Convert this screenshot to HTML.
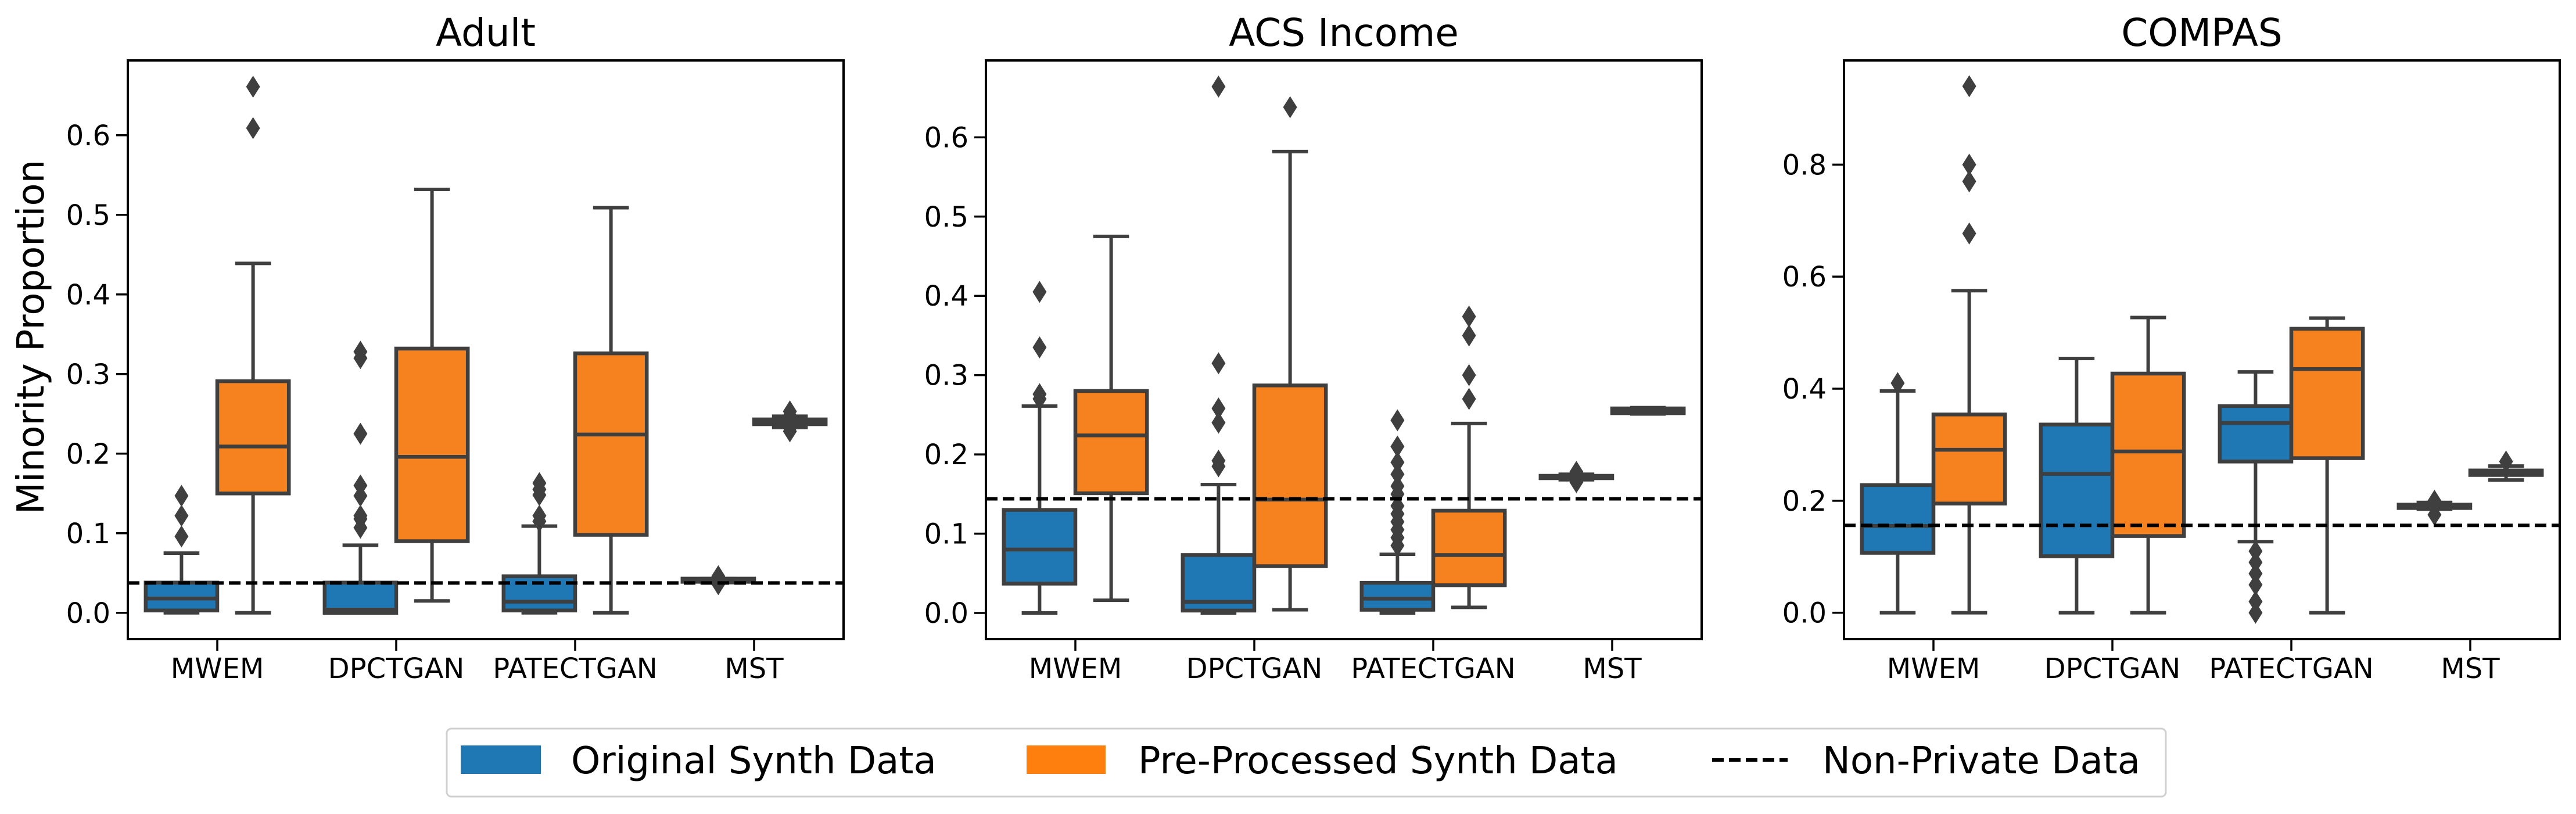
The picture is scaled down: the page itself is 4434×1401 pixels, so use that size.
<!DOCTYPE html>
<html><head><meta charset="utf-8">
<style>
html,body{margin:0;padding:0;background:#fff;}
svg{display:block;font-family:"DejaVu Sans","Liberation Sans",sans-serif;}
</style></head>
<body>
<svg id="chart" width="4434" height="1401" viewBox="0 0 4434 1401" xmlns="http://www.w3.org/2000/svg">
<rect width="4434" height="1401" fill="#fff"/>
<g id="panels"></g>
<g>
  <rect x="769" y="1254" width="2959" height="117" rx="8" fill="#fff" stroke="#d0d0d0" stroke-width="3"/>
  <rect x="793" y="1283" width="138" height="49" fill="#1f77b4"/>
  <text x="983" y="1331" font-size="64">Original Synth Data</text>
  <rect x="1767" y="1283" width="136" height="49" fill="#ff7f0e"/>
  <text x="1959" y="1331" font-size="64">Pre-Processed Synth Data</text>
  <line x1="2947" y1="1308" x2="3077" y2="1308" stroke="#000" stroke-width="6" stroke-dasharray="20,9"/>
  <text x="3137" y="1331" font-size="64">Non-Private Data</text>
</g>
</svg>
<script>
const categories = ["MWEM","DPCTGAN","PATECTGAN","MST"];
const titles = ["Adult","ACS Income","COMPAS"];
const yRanges = [[-0.033,0.694],[-0.033,0.697],[-0.047,0.986]];
const yTicks = [[0,0.1,0.2,0.3,0.4,0.5,0.6],[0,0.1,0.2,0.3,0.4,0.5,0.6],[0,0.2,0.4,0.6,0.8]];
const nonPrivate = [0.0375,0.144,0.156];
// each box: [whiskerLow, q1, median, q3, whiskerHigh]
const adultOrig = [[0,0.003,0.018,0.038,0.075],[0,0,0.004,0.038,0.085],[0,0.003,0.014,0.046,0.109],[0.038,0.039,0.041,0.043,0.043]];
const adultPre = [[0,0.150,0.209,0.291,0.439],[0.015,0.09,0.196,0.332,0.532],[0,0.098,0.224,0.326,0.509],[0.233,0.237,0.240,0.243,0.247]];
const adultOrigOut = [[0.096,0.122,0.147],[0.107,0.118,0.122,0.147,0.16,0.225,0.32,0.328],[0.115,0.122,0.148,0.155,0.163],[0.036,0.046]];
const adultPreOut = [[0.609,0.661],[],[],[0.228,0.232,0.248,0.253]];
const acsOrig = [[0,0.037,0.080,0.130,0.261],[0,0.003,0.014,0.073,0.162],[0,0.004,0.018,0.038,0.074],[0.168,0.170,0.172,0.173,0.175]];
const acsPre = [[0.016,0.151,0.224,0.280,0.475],[0.004,0.059,0.143,0.287,0.582],[0.007,0.035,0.073,0.129,0.239],[0.251,0.252,0.255,0.258,0.259]];
const acsOrigOut = [[0.27,0.276,0.335,0.405],[0.185,0.192,0.24,0.258,0.315,0.664],[0.085,0.095,0.105,0.115,0.125,0.135,0.15,0.16,0.175,0.19,0.21,0.243],[0.165,0.178]];
const acsPreOut = [[],[0.638],[0.27,0.3,0.35,0.374],[]];
const compasOrig = [[0,0.107,0.155,0.228,0.396],[0,0.101,0.248,0.336,0.454],[0.127,0.27,0.339,0.369,0.43],[0.185,0.187,0.19,0.193,0.197]];
const compasPre = [[0,0.195,0.291,0.354,0.575],[0,0.137,0.288,0.427,0.527],[0,0.276,0.435,0.507,0.526],[0.237,0.246,0.25,0.254,0.262]];
const compasOrigOut = [[0.41],[],[0,0.02,0.05,0.07,0.09,0.11],[0.175,0.2]];
const compasPreOut = [[0.677,0.77,0.80,0.94],[],[],[0.27]];

const origSets=[adultOrig,acsOrig,compasOrig], preSets=[adultPre,acsPre,compasPre];
const origOutSets=[adultOrigOut,acsOrigOut,compasOrigOut], preOutSets=[adultPreOut,acsPreOut,compasPreOut];
const panelLeft=[220,1697,3174], panelW=1232, axTop=104, axBottom=1100;
const NS="http://www.w3.org/2000/svg";
const root=document.getElementById('panels');
function mk(tag,attrs,parent){const e=document.createElementNS(NS,tag);for(const k in attrs)e.setAttribute(k,attrs[k]);parent.appendChild(e);return e;}
const EDGE="#3f3f3f";
for(let p=0;p<3;p++){
  const g=mk('g',{},root);
  
  
  const L=panelLeft[p], R=L+panelW;
  const y0=yRanges[p][0], y1=yRanges[p][1];
  const Y=v=>axBottom-(v-y0)/(y1-y0)*(axBottom-axTop);
  const step=panelW/categories.length;
  const X=i=>L+step*(i+0.5);
  const bw=step*0.4;
  const t=mk('text',{x:L+panelW/2,y:79,'font-size':66,'text-anchor':'middle'},g);
  t.textContent=titles[p];
  
  
  yTicks[p].forEach(v=>{
    const tk=mk('line',{x1:L-20,x2:L,y1:Y(v),y2:Y(v),stroke:'#000','stroke-width':3.5},g);
    
    
    const tl=mk('text',{x:L-30,y:Y(v)+17,'font-size':48,'text-anchor':'end'},g);
    tl.textContent=v.toFixed(1);
    
    
  });
  categories.forEach((c,i)=>{
    const tk=mk('line',{x1:X(i),x2:X(i),y1:axBottom,y2:axBottom+20,stroke:'#000','stroke-width':3.5},g);
    
    
    const tl=mk('text',{x:X(i),y:1167,'font-size':48,'text-anchor':'middle'},g);
    tl.textContent=c;
    
    
  });
  function drawBox(cx,st,color,outs,name){
    const bg=mk('g',{},g);
    
    
    const lo=st[0],q1=st[1],md=st[2],q3=st[3],hi=st[4];
    mk('line',{x1:cx,x2:cx,y1:Y(lo),y2:Y(q1),stroke:EDGE,'stroke-width':6},bg);
    mk('line',{x1:cx,x2:cx,y1:Y(q3),y2:Y(hi),stroke:EDGE,'stroke-width':6},bg);
    mk('line',{x1:cx-bw/4,x2:cx+bw/4,y1:Y(lo),y2:Y(lo),stroke:EDGE,'stroke-width':6},bg);
    mk('line',{x1:cx-bw/4,x2:cx+bw/4,y1:Y(hi),y2:Y(hi),stroke:EDGE,'stroke-width':6},bg);
    mk('rect',{x:cx-bw/2,y:Y(q3),width:bw,height:Math.max(Y(q1)-Y(q3),1),fill:color,stroke:EDGE,'stroke-width':6.5},bg);
    mk('line',{x1:cx-bw/2,x2:cx+bw/2,y1:Y(md),y2:Y(md),stroke:EDGE,'stroke-width':6.5},bg);
    outs.forEach(v=>{
      const y=Y(v);
      const d=mk('polygon',{points:`${cx},${y-19} ${cx+12},${y} ${cx},${y+19} ${cx-12},${y}`,fill:EDGE},bg);
      
      
    });
  }
  categories.forEach((c,i)=>{
    drawBox(X(i)-bw/2,origSets[p][i],'#1f77b4',origOutSets[p][i],'box-original-'+c.toLowerCase());
    drawBox(X(i)+bw/2,preSets[p][i],'#f5821f',preOutSets[p][i],'box-preprocessed-'+c.toLowerCase());
  });
  const dl=mk('line',{x1:L,x2:R,y1:Y(nonPrivate[p]),y2:Y(nonPrivate[p]),stroke:'#000','stroke-width':6,'stroke-dasharray':'20,9'},g);
  
  
  const fr=mk('rect',{x:L,y:axTop,width:panelW,height:axBottom-axTop,fill:'none',stroke:'#000','stroke-width':4},g);
  
  
}
const yl=mk('text',{x:0,y:0,'font-size':64,'text-anchor':'middle',transform:'translate(75,580) rotate(-90)'},root);
yl.textContent='Minority Proportion';


</script>
</body></html>
